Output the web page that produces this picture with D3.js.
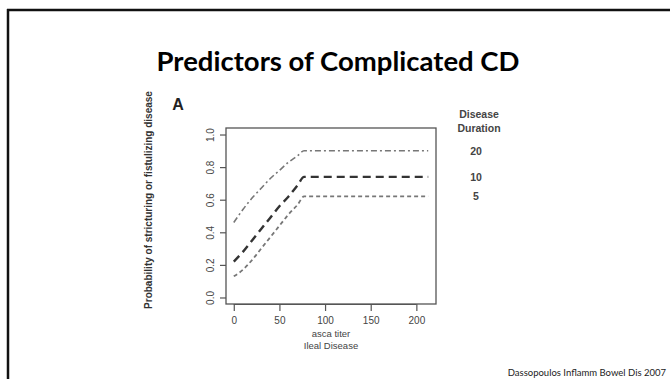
<!DOCTYPE html>
<html>
<head>
<meta charset="utf-8">
<script src="https://cdn.jsdelivr.net/npm/d3@7"></script>
<style>
  body { margin: 0; background: #fff; }
  svg { display: block; }
</style>
</head>
<body>
<div id="chart"></div>
<script>
// asca titer values where the curves were read
let titer = [0, 10, 20, 30, 40, 50, 60, 70, 77, 213];

// probability per disease duration (years)
let dur20 = [0.46, 0.54, 0.61, 0.67, 0.73, 0.78, 0.83, 0.87, 0.90, 0.90];
let dur10 = [0.22, 0.28, 0.35, 0.42, 0.49, 0.56, 0.62, 0.69, 0.74, 0.74];
let dur5 = [0.13, 0.17, 0.23, 0.30, 0.37, 0.44, 0.51, 0.57, 0.62, 0.62];

let durations = ["20", "10", "5"];
let xTicks = [0, 50, 100, 150, 200];
let yTicks = [0, 0.2, 0.4, 0.6, 0.8, 1.0];

let W = 670, H = 379;

let svg = d3.select("#chart").append("svg")
    .attr("width", W)
    .attr("height", H);

// slide frame
svg.append("line").attr("x1", 7).attr("x2", W).attr("y1", 10).attr("y2", 10)
    .attr("stroke", "#111").attr("stroke-width", 2.5);
svg.append("line").attr("x1", 8).attr("x2", 8).attr("y1", 9).attr("y2", H)
    .attr("stroke", "#111").attr("stroke-width", 2.5);

// title
svg.append("text")
    .attr("x", 338).attr("y", 71)
    .attr("text-anchor", "middle")
    .style("font-family", "Lato, 'Open Sans', sans-serif")
    .style("font-weight", "bold")
    .style("font-size", "27.5px")
    .text("Predictors of Complicated CD");

// plot box
let box = {left: 226, right: 436, top: 128, bottom: 304};

let x = d3.scaleLinear()
    .domain([0, 213])
    .range([box.left, box.right]);
let pad = (box.right - box.left) * 0.04 / 1.08;
x.range([box.left + pad, box.right - pad]);

let y = d3.scaleLinear()
    .domain([0, 1])
    .range([box.bottom - 176 * 0.04 / 1.08, box.top + 176 * 0.04 / 1.08]);

let grey = "#555";
let rFont = "'Liberation Sans', Arial, sans-serif";

svg.append("rect")
    .attr("x", box.left).attr("y", box.top)
    .attr("width", box.right - box.left)
    .attr("height", box.bottom - box.top)
    .attr("fill", "none")
    .attr("stroke", grey)
    .attr("stroke-width", 1.3);

// x axis
let xAxis = svg.append("g")
    .attr("transform", "translate(0," + box.bottom + ")")
    .call(d3.axisBottom(x).tickValues(xTicks).tickSize(7).tickPadding(6));
xAxis.select(".domain")
    .attr("d", "M" + x(0) + ",0.5V0.5H" + x(200) + "V0.5");

// y axis
let yAxis = svg.append("g")
    .attr("transform", "translate(" + box.left + ",0)")
    .call(d3.axisLeft(y).tickValues(yTicks).tickSize(6).tickPadding(4)
        .tickFormat(d3.format(".1f")));
yAxis.select(".domain").remove();
yAxis.selectAll(".tick text")
    .attr("transform", "rotate(-90)")
    .attr("x", 0).attr("y", -12)
    .attr("dy", 0)
    .attr("text-anchor", "middle");

svg.selectAll(".tick line").attr("stroke", grey).attr("stroke-width", 1.2);
svg.selectAll(".domain").attr("stroke", grey);
svg.selectAll(".tick text")
    .style("font-family", rFont)
    .style("font-size", "10px")
    .attr("fill", "#444");

// axis titles
svg.append("text")
    .attr("transform", "translate(152,200) rotate(-90)")
    .attr("text-anchor", "middle")
    .style("font-family", rFont)
    .style("font-weight", "bold")
    .style("font-size", "10px")
    .attr("fill", "#333")
    .text("Probability of stricturing or fistulizing disease");

svg.append("text")
    .attr("x", 331).attr("y", 337)
    .attr("text-anchor", "middle")
    .style("font-family", rFont)
    .style("font-size", "9.5px")
    .attr("fill", "#444")
    .text("asca titer");
svg.append("text")
    .attr("x", 331).attr("y", 349)
    .attr("text-anchor", "middle")
    .style("font-family", rFont)
    .style("font-size", "9.5px")
    .attr("fill", "#444")
    .text("Ileal Disease");

// panel letter
svg.append("text")
    .attr("x", 178).attr("y", 110)
    .attr("text-anchor", "middle")
    .style("font-family", rFont)
    .style("font-weight", "bold")
    .style("font-size", "16px")
    .attr("fill", "#222")
    .text("A");

// curves
let series = [
    {name: "20", values: dur20, dash: "6,3,2,3", color: "#777", width: 1.6},
    {name: "10", values: dur10, dash: "8,5", color: "#333", width: 2.4},
    {name: "5", values: dur5, dash: "4,3", color: "#777", width: 1.8}
];

let line = d3.line()
    .x(function (d) { return x(d[0]); })
    .y(function (d) { return y(d[1]); })
    .curve(d3.curveMonotoneX);

series.forEach(function (s) {
    svg.append("path")
        .datum(d3.zip(titer, s.values))
        .attr("d", line)
        .attr("fill", "none")
        .attr("stroke", s.color)
        .attr("stroke-width", s.width)
        .attr("stroke-dasharray", s.dash);
});

// legend
svg.append("text")
    .attr("x", 479).attr("y", 118)
    .attr("text-anchor", "middle")
    .style("font-family", rFont).style("font-weight", "bold").style("font-size", "10.5px")
    .attr("fill", "#444")
    .text("Disease");
svg.append("text")
    .attr("x", 479).attr("y", 132)
    .attr("text-anchor", "middle")
    .style("font-family", rFont).style("font-weight", "bold").style("font-size", "10.5px")
    .attr("fill", "#444")
    .text("Duration");

series.forEach(function (s, i) {
    svg.append("text")
        .attr("x", 476)
        .attr("y", y(s.values[s.values.length - 1]) + 4)
        .attr("text-anchor", "middle")
        .style("font-family", rFont).style("font-weight", "bold").style("font-size", "10.5px")
        .attr("fill", "#444")
        .text(durations[i]);
});

// citation
svg.append("text")
    .attr("x", 666).attr("y", 376)
    .attr("text-anchor", "end")
    .style("font-family", "Lato, 'Open Sans', sans-serif")
    .style("font-size", "9.5px")
    .attr("fill", "#222")
    .text("Dassopoulos Inflamm Bowel Dis 2007");
</script>
</body>
</html>
